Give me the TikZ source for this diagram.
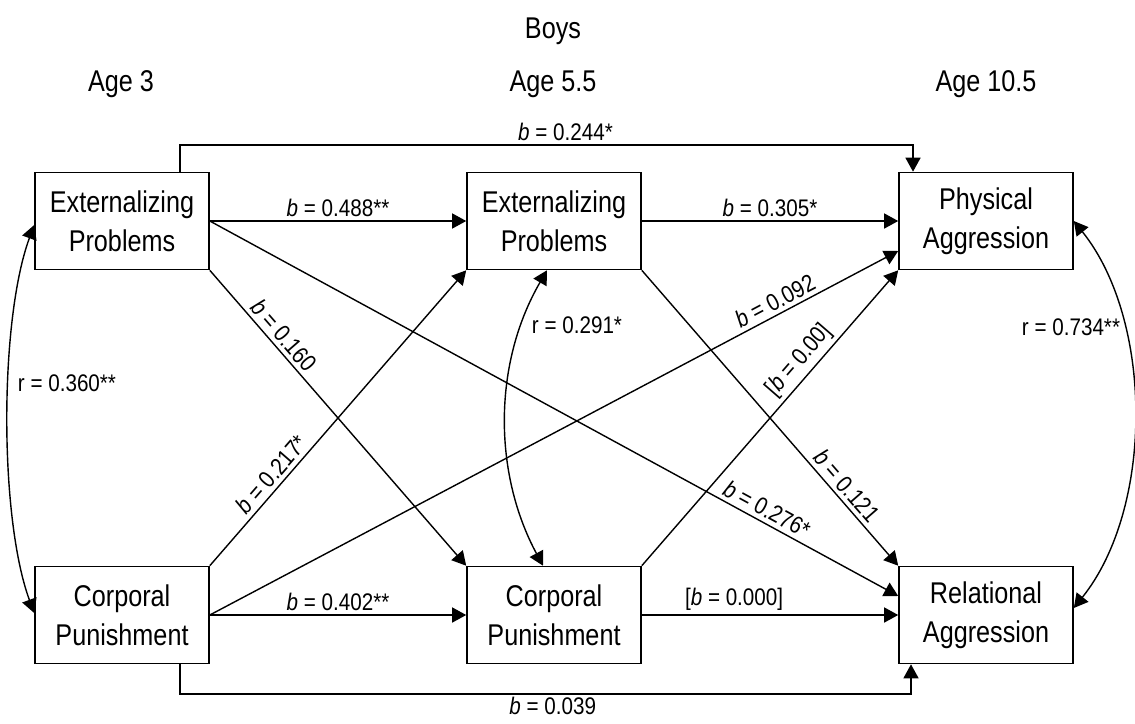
\documentclass[tikz,border=0pt]{standalone}
\usepackage{fontspec}
\setmainfont{Liberation Sans}
\newfontfamily\boxfont[FakeStretch=0.84]{Liberation Sans}
\newfontfamily\labfont[FakeStretch=0.86]{Liberation Sans}
\usetikzlibrary{arrows.meta}
\begin{document}
\begin{tikzpicture}[x=1pt,y=-1pt,
  box/.style={draw, line width=1.6pt, minimum width=174pt, minimum height=97pt, inner sep=0pt, align=center, font=\boxfont\fontsize{30}{39}\selectfont},
  arr/.style={line width=1.4pt, -{Triangle[length=14pt,width=15pt]}},
  biarr/.style={line width=1.4pt, {Triangle[length=14pt,width=15pt]}-{Triangle[length=14pt,width=15pt]}},
  lab/.style={font=\labfont\fontsize{24}{28}\selectfont, inner sep=4pt},
  ttl/.style={font=\boxfont\fontsize{30}{36}\selectfont, anchor=base},
]
\useasboundingbox (0,0) rectangle (1135,723);

% titles
\node[ttl] (boys) at (553,38) {Boys};
\node[ttl] (age3) at (121,91) {Age 3};
\node[ttl] (age55) at (553,91) {Age 5.5};
\node[ttl] (age105) at (986,91) {Age 10.5};

% boxes
\node[box] (ExtA) at (122,221) {Externalizing\\Problems};
\node[box] (ExtB) at (554,221) {Externalizing\\Problems};
\node[box] (Phys) at (986,221) {Physical\\Aggression};
\node[box] (CorpA) at (122,615) {Corporal\\Punishment};
\node[box] (CorpB) at (554,615) {Corporal\\Punishment};
\node[box] (Rel) at (986,615) {Relational\\Aggression};

% horizontal paths
\draw[arr] (ExtA.east) -- node[lab, above] {\textit{b} = 0.488**} (ExtB.west);
\draw[arr] (ExtB.east) -- node[lab, above] {\textit{b} = 0.305*} (Phys.west);
\draw[arr] (CorpA.east) -- node[lab, above] {\textit{b} = 0.402**} (CorpB.west);
\draw[arr] (CorpB.east) -- node[lab, above, pos=0.36] {[\textit{b} = 0.000]} (Rel.west);

% top and bottom elbow paths
\coordinate (tl) at (180,145);
\coordinate (tr) at (913,145);
\draw[arr] (tl |- ExtA.north) -- (tl) -- node[lab, above, pos=0.526] {\textit{b} = 0.244*} (tr) -- (tr |- Phys.north);
\coordinate (bl) at (180,694);
\coordinate (br) at (911,694);
\draw[arr] (bl |- CorpA.south) -- (bl) -- node[lab, below, pos=0.51, inner sep=2pt] {\textit{b} = 0.039} (br) -- (br |- Rel.south);

% diagonal paths
\draw[arr] (ExtA.south east) -- node[lab, sloped, above, pos=0.25] {\textit{b} = 0.160} (CorpB.north west);
\draw[arr] (ExtA.east) -- node[lab, sloped, above, pos=0.80] {\textit{b} = 0.276*} ([yshift=19pt]Rel.west);
\draw[arr] (ExtB.south east) -- node[lab, sloped, above, pos=0.76] {\textit{b} = 0.121} (Rel.north west);
\draw[arr] (CorpA.north east) -- node[lab, sloped, above, pos=0.28] {\textit{b} = 0.217*} (ExtB.south west);
\draw[arr] (CorpA.east) -- node[lab, sloped, above, pos=0.83] {\textit{b} = 0.092} ([yshift=-30pt]Phys.west);
\draw[arr] (CorpB.north east) -- node[lab, sloped, above, pos=0.66] {[\textit{b} = 0.00]} (Phys.south west);

% correlations
\draw[biarr] ([yshift=-4pt]ExtA.west) .. controls +(-35,95) and +(-35,-95) .. ([yshift=2pt]CorpA.west);
\node[lab] (r1) at (67,383) {r = 0.360**};
\draw[biarr] ([xshift=-7pt]ExtB.south) .. controls +(-54,93) and +(-50,-93) .. ([xshift=-11pt]CorpB.north);
\node[lab] (r2) at (577,325) {r = 0.291*};
\draw[biarr] (Phys.east) .. controls +(80,100) and +(80,-100) .. ([yshift=7pt]Rel.east);
\node[lab] (r3) at (1071,327) {r = 0.734**};
\end{tikzpicture}
\end{document}
